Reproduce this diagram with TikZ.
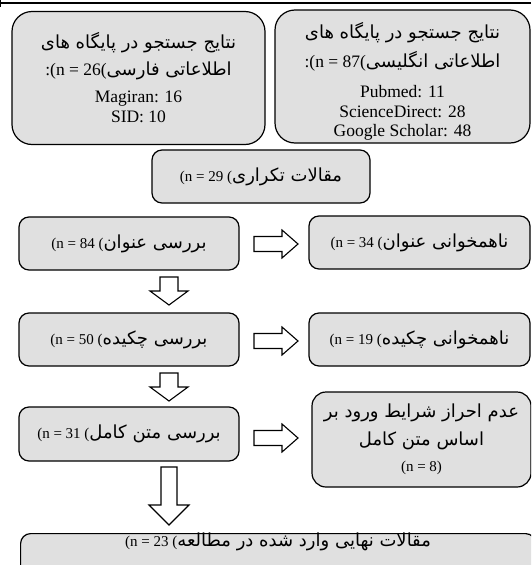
\documentclass[tikz,border=0pt]{standalone}
\usepackage{fontspec}
\setmainfont{Liberation Serif}
\newfontfamily\arabicfont[Script=Arabic]{DejaVu Sans}
\TeXXeTstate=1
\definecolor{boxgray}{RGB}{224,224,224}
\newcommand{\fa}[1]{{\arabicfont\fontsize{18}{20}\selectfont\beginR #1\endR}}
\tikzset{
  box/.style={draw, fill=boxgray, rounded corners=10pt, line width=1.2pt, align=center, inner sep=2pt, font=\fontsize{15}{19}\selectfont},
  bigbox/.style={box, rounded corners=20pt, font=\fontsize{17.5}{20}\selectfont},
  blockarrow/.style={draw, fill=white, line width=1.1pt, line join=miter}
}
\begin{document}
\begin{tikzpicture}[x=1pt, y=-1pt]
  \useasboundingbox (0,0) rectangle (531,565);
  \clip (0,0) rectangle (531,565);
  \draw[line width=1.2pt] (0,3) -- (531,3);
  \draw[line width=1pt] (0.5,0) -- (0.5,7);

  % search results
  \node (persian) [bigbox, minimum width=253, minimum height=133] at (138.5,78)
    {\fa{نتایج جستجو در پایگاه های}\\[7pt]
     :(n = 26(\fa{اطلاعاتی فارسی}\\[7pt]
     Magiran: 16\\ SID: 10};
  \node (english) [bigbox, minimum width=255, minimum height=133, text height=124pt, text depth=5pt] at (402.5,76.5)
    {\fa{نتایج جستجو در پایگاه های}\\[7pt]
     :(n = 87(\fa{اطلاعاتی انگلیسی}\\[10pt]
     Pubmed: 11\\ ScienceDirect: 28\\[-1pt] Google Scholar: 48};
  \node (dup) [box, minimum width=218, minimum height=53] at (261,176.5)
    {(n = 29 (\fa{مقالات تکراری}};

  % screening
  \node (title) [box, minimum width=220, minimum height=53] at (129,243.5)
    {(n = 84 (\fa{بررسی عنوان}};
  \node (titlex) [box, minimum width=221, minimum height=53] at (419.5,242.5)
    {(n = 34 (\fa{ناهمخوانی عنوان}};
  \node (abstract) [box, minimum width=220, minimum height=53] at (129,339.5)
    {(n = 50 (\fa{بررسی چکیده}};
  \node (abstractx) [box, minimum width=221, minimum height=53] at (419.5,339.5)
    {(n = 19 (\fa{ناهمخوانی چکیده}};
  \node (fulltext) [box, minimum width=220, minimum height=54] at (129,434)
    {(n = 31 (\fa{بررسی متن کامل}};
  \node (fulltextx) [box, rounded corners=14pt, minimum width=219, minimum height=95] at (421.5,439.5)
    {\fa{عدم احراز شرایط ورود بر}\\[9pt] \fa{اساس متن کامل}\\[7pt] (n = 8)};
  \node (final) [box, anchor=north west, minimum width=515, text height=11pt, text depth=40pt] at (20,533)
    {(n = 23 (\fa{مقالات نهایی وارد شده در مطالعه}};

  % block arrows
  \coordinate (r1) at (254,244);
  \coordinate (r2) at (254,341);
  \coordinate (r3) at (254,438);
  \coordinate (d1) at (169,277);
  \coordinate (d2) at (169,373);
  \coordinate (d3) at (169,467);

  \foreach \p in {r1,r2,r3}
    \draw[blockarrow] (\p) ++(0,-7.5) -- ++(28,0) -- ++(0,-6.5) -- ++(16,14) -- ++(-16,14) -- ++(0,-6.5) -- ++(-28,0) -- cycle;
  \foreach \p in {d1,d2}
    \draw[blockarrow] (\p) ++(-9,0) -- ++(0,14) -- ++(-10,0) -- ++(19,14) -- ++(19,-14) -- ++(-10,0) -- ++(0,-14) -- cycle;
  \draw[blockarrow] (d3) ++(-8,0) -- ++(0,38) -- ++(-12,0) -- ++(20,20) -- ++(20,-20) -- ++(-12,0) -- ++(0,-38) -- cycle;
\end{tikzpicture}
\end{document}
